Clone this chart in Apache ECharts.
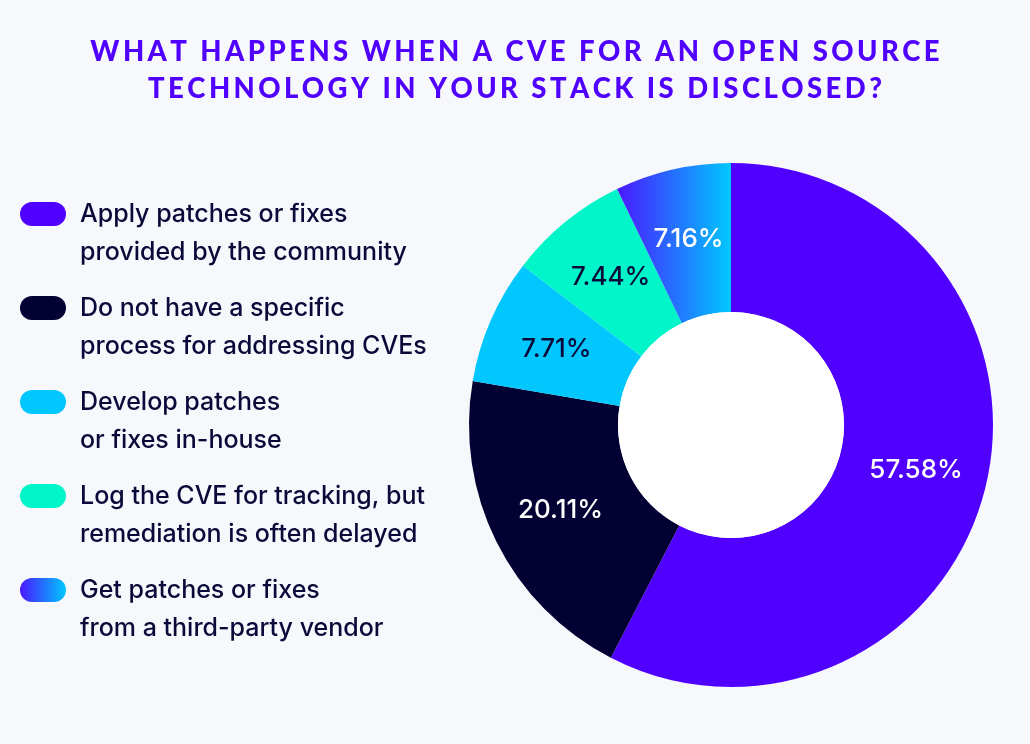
<!DOCTYPE html>
<html>
<head>
<meta charset="utf-8">
<script src="https://cdn.jsdelivr.net/npm/echarts@6/dist/echarts.min.js"></script>
<style>
  html, body { margin: 0; padding: 0; background: #f7f8fc; }
  #chart { width: 1030px; height: 744px; }
</style>
</head>
<body>
<div id="chart"></div>
<script>
(function () {
  var titleLines = [
    "WHAT HAPPENS WHEN A CVE FOR AN OPEN SOURCE",
    "TECHNOLOGY IN YOUR STACK IS DISCLOSED?"
  ];
  var categories = [
    "Apply patches or fixes\nprovided by the community",
    "Do not have a specific\nprocess for addressing CVEs",
    "Develop patches\nor fixes in-house",
    "Log the CVE for tracking, but\nremediation is often delayed",
    "Get patches or fixes\nfrom a third-party vendor"
  ];
  var values = [57.58, 20.11, 7.71, 7.44, 7.16];
  var labelColors = ["#ffffff", "#ffffff", "#0a0a3a", "#0a0a3a", "#ffffff"];

  var sliceColors = [
    "#5000ff",
    "#030033",
    "#00c8ff",
    "#00f5c8",
    new echarts.graphic.LinearGradient(0, 0, 1, 0, [
      { offset: 0, color: "#4a18ff" },
      { offset: 1, color: "#00c8ff" }
    ])
  ];

  // 胶囊形图例图标
  var pill = "path://M12,0H34A12,12,0,0,1,34,24H12A12,12,0,0,1,12,0Z";

  // 字间距：用细空格模拟
  function spaced(s) {
    return s.split("").join("\u2009");
  }

  var myChart = echarts.init(document.getElementById("chart"));

  var option = {
    backgroundColor: "#f7f8fc",
    title: {
      text: titleLines.map(spaced).join("\n"),
      left: "center",
      top: 34,
      padding: 0,
      textStyle: {
        color: "#5000ff",
        fontFamily: "Lato",
        fontWeight: 900,
        fontSize: 27.5,
        lineHeight: 37
      }
    },
    legend: {
      orient: "vertical",
      left: 20,
      top: 157,
      padding: 0,
      icon: pill,
      itemWidth: 46,
      itemHeight: 24,
      itemGap: -20,
      selectedMode: false,
      // 首行空出来，让图标对齐第一行文字
      formatter: function (name) {
        return "\n" + name.split("\n").map(function (l) {
          return "{t|" + l + "}";
        }).join("\n");
      },
      textStyle: {
        color: "#0a0a3a",
        fontFamily: "Inter",
        fontSize: 25,
        lineHeight: 38,
        rich: {
          t: {
            color: "#0a0a3a",
            fontFamily: "Inter",
            fontWeight: 500,
            fontSize: 25,
            lineHeight: 38,
            padding: [0, 0, 0, 9]
          }
        }
      },
      data: categories
    },
    series: [
      {
        type: "pie",
        center: [731, 425],
        radius: [113, 262],
        startAngle: 90,
        clockwise: true,
        avoidLabelOverlap: false,
        label: {
          show: true,
          position: "inside",
          fontFamily: "Inter",
          fontWeight: 500,
          fontSize: 26,
          formatter: function (p) {
            return p.value.toFixed(2) + "%";
          }
        },
        labelLine: { show: false },
        emphasis: { disabled: true },
        data: categories.map(function (c, i) {
          return {
            name: c,
            value: values[i],
            itemStyle: { color: sliceColors[i] },
            label: { color: labelColors[i] }
          };
        })
      },
      {
        // 中间白色圆
        type: "pie",
        center: [731, 425],
        radius: [0, 113],
        silent: true,
        label: { show: false },
        labelLine: { show: false },
        data: [{ value: 1, name: "", itemStyle: { color: "#ffffff" } }]
      }
    ]
  };

  myChart.setOption(option);
})();
</script>
</body>
</html>
